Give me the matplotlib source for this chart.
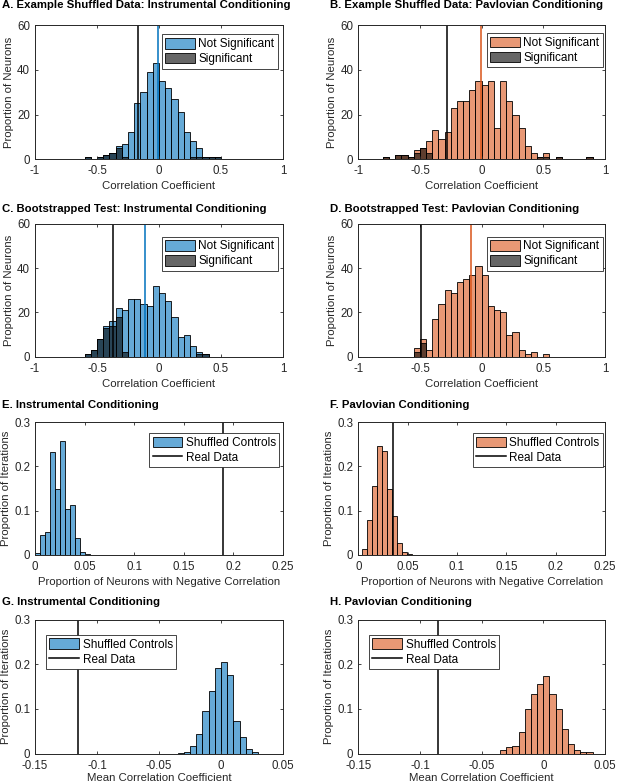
import numpy as np
import matplotlib.pyplot as plt
from matplotlib.patches import Patch
from matplotlib.lines import Line2D

plt.rcParams['font.family'] = ['Liberation Sans', 'DejaVu Sans']
plt.rcParams['font.size'] = 8

# ---- data ----
corr_w = 0.05
iter_w = 0.005

# A. example shuffled, instrumental
a_start = -0.6
a_all = [1, 0, 1, 2, 3, 6, 7, 12, 25, 30, 39, 43, 35, 32, 27, 21, 12, 8, 5, 1, 1, 1]
a_sig = [1, 0, 1, 2, 3, 5, 1, 0, 0, 0, 0, 0, 0, 0, 0, 0, 0, 1, 1, 1, 1, 1]
a_mean, a_thresh = -0.01, -0.166

# B. example shuffled, pavlovian
b_start = -0.8
b_all = [1, 0, 2, 2, 1, 4, 5, 8, 13, 9, 12, 23, 26, 26, 31, 35, 33, 35, 14, 35,
         26, 20, 14, 6, 3, 1, 3, 0, 1, 0, 0, 0, 0, 1]
b_sig = [1, 0, 2, 2, 1, 3, 5, 3] + [0] * 17 + [1, 1, 0, 1, 0, 0, 0, 0, 1]
b_mean, b_thresh = -0.008, -0.284

# C. bootstrapped, instrumental
c_start = -0.6
c_all = [1, 3, 8, 14, 16, 22, 21, 26, 26, 24, 23, 32, 29, 25, 18, 9, 10, 5, 2, 1]
c_sig = [1, 3, 8, 13, 14, 18, 2, 0, 0, 0, 0, 0, 0, 0, 0, 0, 0, 0, 1, 1]
c_mean, c_thresh = -0.114, -0.368

# D. bootstrapped, pavlovian
d_start = -0.55
d_all = [4, 8, 3, 17, 24, 30, 29, 34, 35, 37, 41, 37, 23, 21, 20, 10, 11, 3, 1, 2, 0, 1]
d_sig = [2, 6] + [0] * 20
d_mean, d_thresh = -0.087, -0.494

# E/F. proportion of neurons with negative correlation
e_start = 0.0
e_vals = [0.003, 0.044, 0.051, 0.232, 0.150, 0.257, 0.104, 0.112, 0.037, 0.007, 0.002]
e_real = 0.19
f_start = 0.004
f_vals = [0.014, 0.078, 0.156, 0.246, 0.236, 0.149, 0.088, 0.026, 0.006, 0.002]
f_real = 0.035

# G/H. mean correlation coefficient
g_start = -0.035
g_vals = [0.001, 0.003, 0.018, 0.045, 0.095, 0.141, 0.192, 0.205, 0.175, 0.074,
          0.038, 0.011, 0.004]
g_real = -0.115
h_start = -0.035
h_vals = [0.009, 0.015, 0.018, 0.048, 0.100, 0.133, 0.155, 0.173, 0.133, 0.100,
          0.056, 0.021, 0.008, 0.004, 0.003]
h_real = -0.085

titles = ["A. Example Shuffled Data: Instrumental Conditioning",
          "B. Example Shuffled Data: Pavlovian Conditioning",
          "C. Bootstrapped Test: Instrumental Conditioning",
          "D. Bootstrapped Test: Pavlovian Conditioning",
          "E. Instrumental Conditioning",
          "F. Pavlovian Conditioning",
          "G. Instrumental Conditioning",
          "H. Pavlovian Conditioning"]

# ---- styling ----
BLUE = (0, 0.447, 0.741)
ORANGE = (0.85, 0.325, 0.098)
ALPHA = 0.6
AX_COL = (0.15, 0.15, 0.15)

W, H = 617, 782
fig = plt.figure(figsize=(W / 100, H / 100), dpi=100)


def make_ax(l, r, t, b):
    ax = fig.add_axes([l / W, 1 - b / H, (r - l) / W, (b - t) / H])
    ax.tick_params(direction='in', top=True, right=True, length=2.5, width=0.6,
                   colors=AX_COL, labelsize=8.3)
    ax.tick_params(axis='x', pad=4.3)
    ax.tick_params(axis='y', pad=3.5)
    for s in ax.spines.values():
        s.set_linewidth(0.7)
        s.set_color(AX_COL)
    return ax


def lefts(start, vals, w):
    return start + w * np.arange(len(vals))


def rgba(c, a):
    return (c[0], c[1], c[2], a)


def add_legend(ax, handles, labels, loc, pos):
    leg = ax.legend(handles, labels, loc=loc, bbox_to_anchor=pos, borderaxespad=0,
                    fancybox=False, framealpha=1, edgecolor=AX_COL, fontsize=8.5,
                    handlelength=2.5, handleheight=1.0, handletextpad=0.3,
                    labelspacing=0.22, borderpad=0.3)
    leg.get_frame().set_linewidth(0.6)


cols = [(35, 283), (358.3, 605)]
rows = [(25, 159.3), (224, 356.7), (422.3, 554.7), (619.5, 753.7)]
title_y = [5, 209.5, 405, 602]
title_x = [2, 330]

# top two rows: neuron correlation histograms
corr_panels = [
    (a_start, a_all, a_sig, a_mean, a_thresh, BLUE, (0.98, 0.93)),
    (b_start, b_all, b_sig, b_mean, b_thresh, ORANGE, (0.992, 0.94)),
    (c_start, c_all, c_sig, c_mean, c_thresh, BLUE, (0.98, 0.905)),
    (d_start, d_all, d_sig, d_mean, d_thresh, ORANGE, (0.992, 0.905)),
]
for i, (st, allv, sig, mn, th, col, lpos) in enumerate(corr_panels):
    r, c = divmod(i, 2)
    ax = make_ax(cols[c][0], cols[c][1], rows[r][0], rows[r][1])
    x = lefts(st, allv, corr_w)
    ax.bar(x, allv, width=corr_w, align='edge', color=rgba(col, ALPHA),
           edgecolor='k', linewidth=0.6)
    ax.bar(x, sig, width=corr_w, align='edge', color=(0, 0, 0, ALPHA),
           edgecolor='k', linewidth=0.6)
    ax.axvline(th, color='k', lw=1.1)
    ax.axvline(mn, color=col, lw=1.1)
    ax.set_xlim(-1, 1)
    ax.set_ylim(0, 60)
    ax.set_xticks([-1, -0.5, 0, 0.5, 1])
    ax.set_xticklabels(['-1', '-0.5', '0', '0.5', '1'])
    ax.set_yticks([0, 20, 40, 60])
    ax.set_xlabel('Correlation Coefficient', color=AX_COL, fontsize=8.2, labelpad=2.8)
    ax.set_ylabel('Proportion of Neurons', color=AX_COL, fontsize=8.2, labelpad=2.5)
    handles = [Patch(facecolor=rgba(col, ALPHA), edgecolor='k', lw=0.6),
               Patch(facecolor=(0, 0, 0, ALPHA), edgecolor='k', lw=0.6)]
    add_legend(ax, handles, ['Not Significant', 'Significant'], 'upper right', lpos)
    fig.text(title_x[c] / W, 1 - title_y[r] / H, titles[i], fontweight='bold',
             fontsize=8.2, va='center', ha='left')

# bottom two rows: shuffled control iterations
iter_panels = [
    (e_start, e_vals, e_real, BLUE, (0, 0.25), [0, 0.05, 0.1, 0.15, 0.2, 0.25],
     ['0', '0.05', '0.1', '0.15', '0.2', '0.25'],
     'Proportion of Neurons with Negative Correlation', 'upper right', (0.985, 0.919), 2.8),
    (f_start, f_vals, f_real, ORANGE, (0, 0.25), [0, 0.05, 0.1, 0.15, 0.2, 0.25],
     ['0', '0.05', '0.1', '0.15', '0.2', '0.25'],
     'Proportion of Neurons with Negative Correlation', 'upper right', (0.992, 0.919), 2.8),
    (g_start, g_vals, g_real, BLUE, (-0.15, 0.05), [-0.15, -0.1, -0.05, 0, 0.05],
     ['-0.15', '-0.1', '-0.05', '0', '0.05'],
     'Mean Correlation Coefficient', 'upper left', (0.044, 0.885), 1.2),
    (h_start, h_vals, h_real, ORANGE, (-0.15, 0.05), [-0.15, -0.1, -0.05, 0, 0.05],
     ['-0.15', '-0.1', '-0.05', '0', '0.05'],
     'Mean Correlation Coefficient', 'upper left', (0.043, 0.885), 1.2),
]
for j, (st, vals, real, col, xl, xt, xtl, xlab, lloc, lpos, lp) in enumerate(iter_panels):
    i = j + 4
    r, c = divmod(i, 2)
    ax = make_ax(cols[c][0], cols[c][1], rows[r][0], rows[r][1])
    ax.bar(lefts(st, vals, iter_w), vals, width=iter_w, align='edge',
           color=rgba(col, ALPHA), edgecolor='k', linewidth=0.6)
    ax.axvline(real, color='k', lw=1.1)
    ax.set_xlim(*xl)
    ax.set_ylim(0, 0.3)
    ax.set_xticks(xt)
    ax.set_xticklabels(xtl)
    ax.set_yticks([0, 0.1, 0.2, 0.3])
    ax.set_yticklabels(['0', '0.1', '0.2', '0.3'])
    ax.set_xlabel(xlab, color=AX_COL, fontsize=8.2, labelpad=lp)
    ax.set_ylabel('Proportion of Iterations', color=AX_COL, fontsize=8.2, labelpad=2.5)
    handles = [Patch(facecolor=rgba(col, ALPHA), edgecolor='k', lw=0.6),
               Line2D([0], [0], color='k', lw=1.1)]
    add_legend(ax, handles, ['Shuffled Controls', 'Real Data'], lloc, lpos)
    fig.text(title_x[c] / W, 1 - title_y[r] / H, titles[i], fontweight='bold',
             fontsize=8.2, va='center', ha='left')

fig.savefig('out.png', dpi=100)
